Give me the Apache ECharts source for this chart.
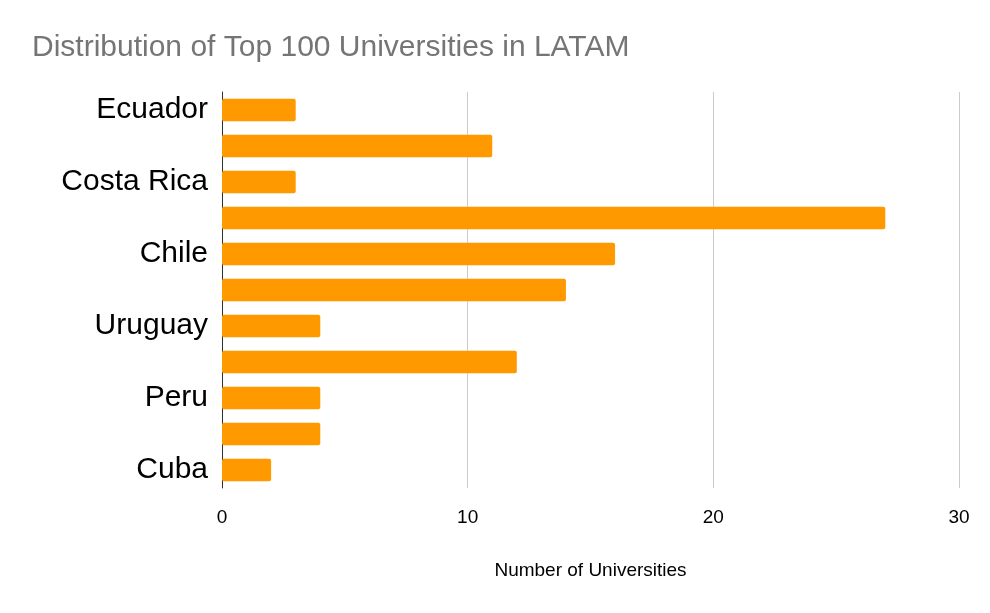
<!DOCTYPE html>
<html>
<head>
<meta charset="utf-8">
<script src="https://cdn.jsdelivr.net/npm/echarts@6/dist/echarts.min.js"></script>
<style>html,body{margin:0;padding:0;background:#fff}#c{width:990px;height:613px}</style>
</head>
<body>
<div id="c"></div>
<script>
const categories = ['Ecuador', 'Colombia', 'Costa Rica', 'Brazil', 'Chile', 'Mexico', 'Uruguay', 'Argentina', 'Peru', 'Venezuela', 'Cuba'];
const universities = [3, 11, 3, 27, 16, 14, 4, 12, 4, 4, 2];
const xTicks = [0, 10, 20, 30];

const chart = echarts.init(document.getElementById('c'), null, {renderer: 'canvas'});
chart.setOption({
  animation: false,
  backgroundColor: '#ffffff',
  title: {
    text: 'Distribution of Top 100 Universities in LATAM',
    left: 27, top: 28,
    textStyle: {fontFamily: 'Liberation Sans, Arial', fontSize: 30, fontWeight: 'normal', color: '#757575'}
  },
  grid: {left: 222, right: 31, top: 92, bottom: 125, containLabel: false},
  xAxis: {
    type: 'value', min: xTicks[0], max: xTicks[xTicks.length - 1], interval: 10,
    name: 'Number of Universities', nameLocation: 'middle', nameGap: 73,
    nameTextStyle: {fontFamily: 'Liberation Sans, Arial', fontSize: 19, color: '#000'},
    axisLine: {show: false}, axisTick: {show: false},
    axisLabel: {fontFamily: 'Liberation Sans, Arial', fontSize: 19, color: '#000', margin: 20},
    splitLine: {lineStyle: {color: '#cccccc', width: 1}}
  },
  yAxis: {
    type: 'category', data: categories, inverse: true,
    axisLine: {show: true, lineStyle: {color: '#333', width: 1}},
    axisTick: {show: false},
    axisLabel: {interval: 1, fontFamily: 'Liberation Sans, Arial', fontSize: 30, color: '#000', margin: 14}
  },
  series: [{
    type: 'bar', data: universities, barCategoryGap: '37%',
    itemStyle: {color: '#ff9900', borderRadius: 2}
  }]
});
</script>
</body>
</html>
